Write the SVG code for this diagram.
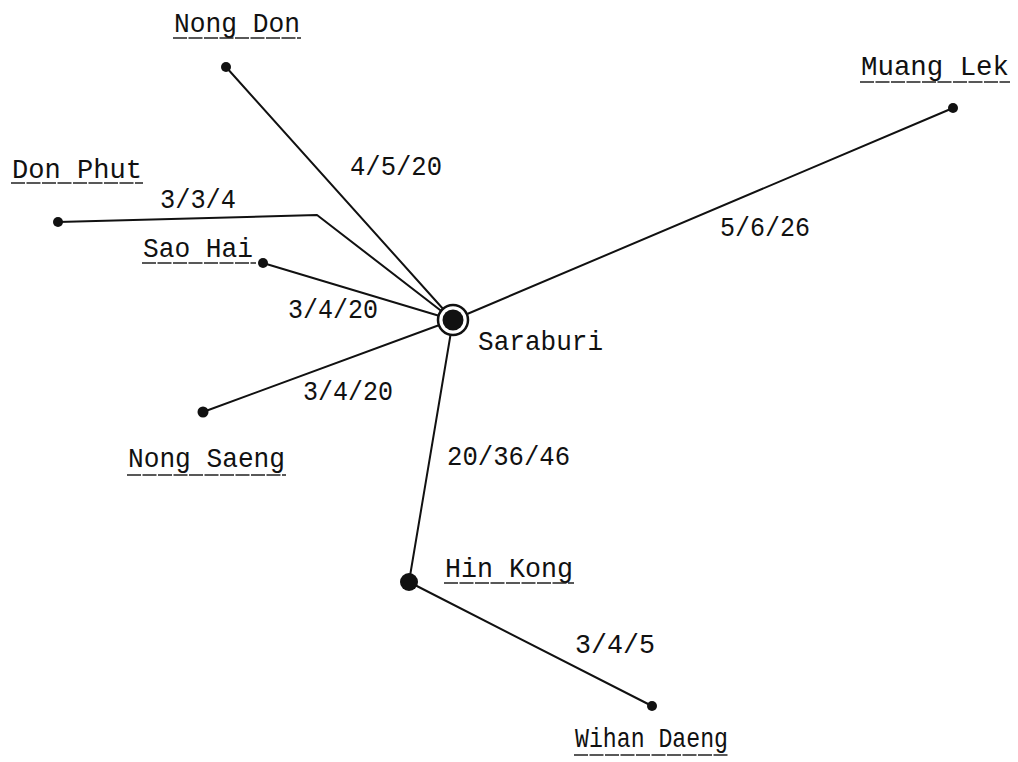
<svg xmlns="http://www.w3.org/2000/svg" width="1018" height="762" viewBox="0 0 1018 762">
<style>
text{font-family:"Liberation Mono","DejaVu Sans Mono",monospace;font-size:28px;fill:#111}
.c{stroke:#111;stroke-width:2;fill:none;stroke-linecap:round;stroke-linejoin:round}
.u{stroke:#222;stroke-width:1.6;stroke-dasharray:14 1.5}
.d{fill:#111}
</style>
<rect width="1018" height="762" fill="#fff"/>
<g id="connectors">
<line class="c" x1="226" y1="67" x2="453" y2="320"/>
<polyline class="c" points="58,222 317,215 453,320"/>
<line class="c" x1="263" y1="263" x2="453" y2="320"/>
<line class="c" x1="953" y1="108" x2="453" y2="320"/>
<line class="c" x1="203" y1="412" x2="453" y2="320"/>
<line class="c" x1="453" y1="320" x2="409" y2="582"/>
<line class="c" x1="409" y1="582" x2="652" y2="706"/>
<text x="350" y="175" textLength="92" lengthAdjust="spacingAndGlyphs">4/5/20</text>
<text x="160" y="208" textLength="76" lengthAdjust="spacingAndGlyphs">3/3/4</text>
<text x="720" y="236" textLength="90" lengthAdjust="spacingAndGlyphs">5/6/26</text>
<text x="288" y="318" textLength="90" lengthAdjust="spacingAndGlyphs">3/4/20</text>
<text x="303" y="400" textLength="90" lengthAdjust="spacingAndGlyphs">3/4/20</text>
<text x="447" y="465" textLength="123" lengthAdjust="spacingAndGlyphs">20/36/46</text>
<text x="575" y="653" textLength="80" lengthAdjust="spacingAndGlyphs">3/4/5</text>
</g>
<g id="saraburi">
<circle cx="453" cy="320" r="15" fill="#fff" stroke="#111" stroke-width="2.5"/>
<circle class="d" cx="453" cy="320" r="10.5"/>
<text x="478" y="350" textLength="125" lengthAdjust="spacingAndGlyphs">Saraburi</text>
</g>
<g id="nong-don">
<circle class="d" cx="226" cy="67" r="5"/>
<text x="174" y="32" textLength="126" lengthAdjust="spacingAndGlyphs">Nong Don</text>
<line class="u" x1="173" y1="38" x2="301" y2="38"/>
</g>
<g id="don-phut">
<circle class="d" cx="58" cy="222" r="5"/>
<text x="12" y="178" textLength="130" lengthAdjust="spacingAndGlyphs">Don Phut</text>
<line class="u" x1="11" y1="183" x2="143" y2="183"/>
</g>
<g id="sao-hai">
<circle class="d" cx="263" cy="263" r="5"/>
<text x="143" y="257" textLength="110" lengthAdjust="spacingAndGlyphs">Sao Hai</text>
<line class="u" x1="142" y1="263" x2="256" y2="263"/>
</g>
<g id="muang-lek">
<circle class="d" cx="953" cy="108" r="5"/>
<text x="861" y="75" textLength="148" lengthAdjust="spacingAndGlyphs">Muang Lek</text>
<line class="u" x1="860" y1="82" x2="1010" y2="82"/>
</g>
<g id="nong-saeng">
<circle class="d" cx="203" cy="412" r="5.5"/>
<text x="128" y="467" textLength="157" lengthAdjust="spacingAndGlyphs">Nong Saeng</text>
<line class="u" x1="127" y1="475" x2="286" y2="475"/>
</g>
<g id="hin-kong">
<circle class="d" cx="409" cy="582" r="9"/>
<text x="445" y="577" textLength="128" lengthAdjust="spacingAndGlyphs">Hin Kong</text>
<line class="u" x1="444" y1="583" x2="574" y2="583"/>
</g>
<g id="wihan-daeng">
<circle class="d" cx="652" cy="706" r="5"/>
<text x="575" y="747" textLength="153" lengthAdjust="spacingAndGlyphs">Wihan Daeng</text>
<line class="u" x1="574" y1="755" x2="729" y2="755"/>
</g>
</svg>
